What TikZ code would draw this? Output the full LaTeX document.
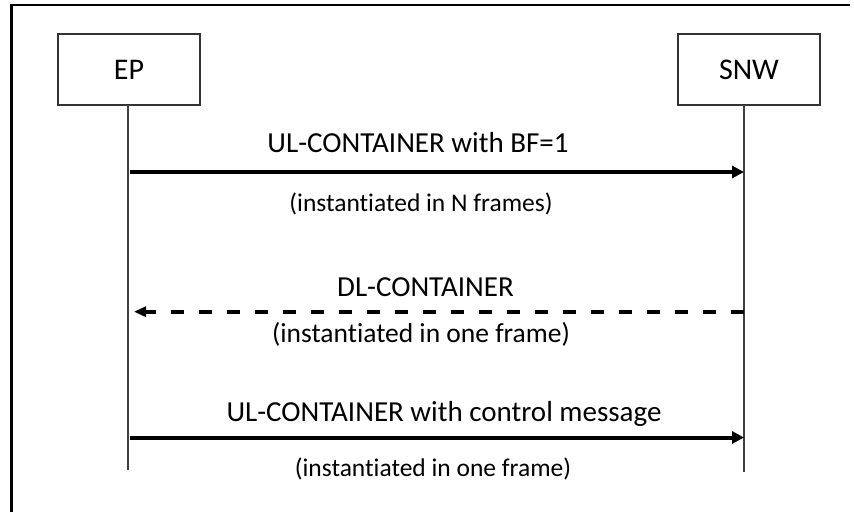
\documentclass[tikz,border=0pt]{standalone}
\usepackage{fontspec}
\setmainfont[Ligatures=NoCommon]{Carlito}
\usetikzlibrary{arrows.meta}
\begin{document}
\begin{tikzpicture}[x=1pt,y=-1pt,
  actor/.style={draw=black!80,line width=1.3pt,minimum width=142pt,minimum height=71pt,
                inner sep=0pt,font=\fontsize{30}{36}\selectfont},
  lifeline/.style={draw=black!75,line width=1.2pt},
  msg/.style={line width=4pt,-{Triangle[length=12pt,width=12pt]}},
  reply/.style={line width=4pt,dash pattern=on 13pt off 15pt,-{Triangle[length=12pt,width=10pt]}},
  lbl/.style={anchor=base,inner sep=0pt,font=\fontsize{29}{34}\selectfont},
  note/.style={anchor=base,inner sep=0pt,font=\fontsize{25.5}{30}\selectfont}]
\useasboundingbox (0,0) rectangle (854,512);

% frame
\draw[line width=2.5pt] (11.5,512) -- (11.5,5) -- (850,5);

% participants
\node[actor] (ep)  at (129,69.5) {EP};
\node[actor] (snw) at (749,69.5) {SNW};

% lifelines
\coordinate (epTop)  at (128,105);
\coordinate (epEnd)  at (128,470);
\coordinate (snwTop) at (744,105);
\coordinate (snwEnd) at (744,472);
\draw[lifeline] (epTop) -- (epEnd);
\draw[lifeline] (snwTop) -- (snwEnd);

% message end points
\coordinate (m1a) at (130,172);
\coordinate (m1b) at (744,172);
\coordinate (m2a) at (744,311.7);
\coordinate (m2b) at (134,311.7);
\coordinate (m3a) at (130,437.5);
\coordinate (m3b) at (744,437.5);

\draw[msg]   (m1a) -- (m1b);
\draw[reply] (m2a) -- (m2b);
\draw[msg]   (m3a) -- (m3b);

% labels
\node[lbl]  (t1) at (418,152.7) {UL-CONTAINER with BF=1};
\node[note] (n1) at (421,211.7) {(instantiated in N frames)};
\node[lbl]  (t2) at (425.5,296) {DL-CONTAINER};
\node[note,font=\fontsize{27.5}{32}\selectfont] (n2) at (421,342) {(instantiated in one frame)};
\node[lbl]  (t3) at (444,421.7) {UL-CONTAINER with control message};
\node[note] (n3) at (433,476.7) {(instantiated in one frame)};
\end{tikzpicture}
\end{document}
